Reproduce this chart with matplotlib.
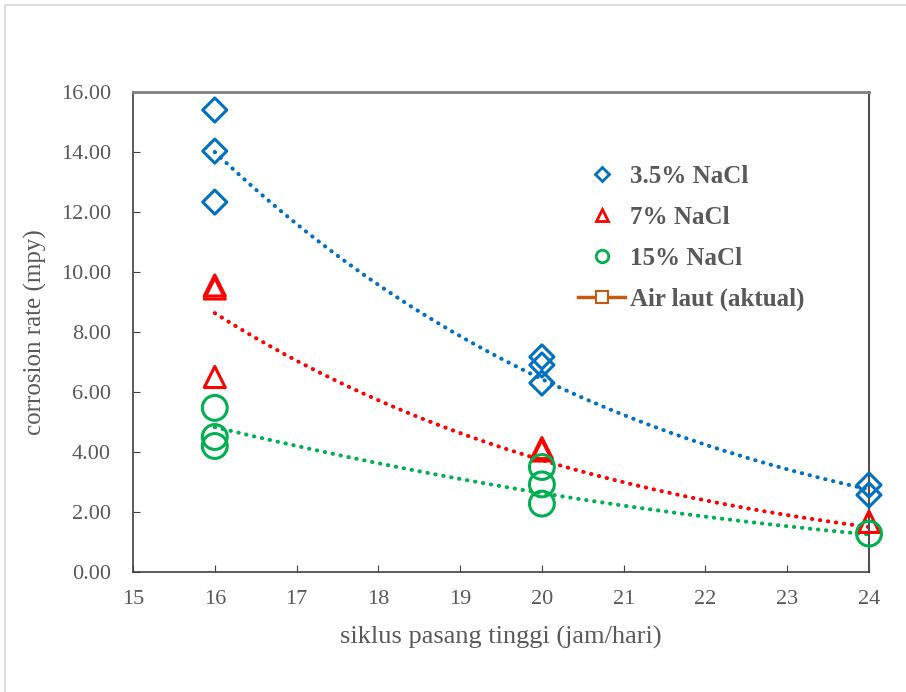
import numpy as np
import matplotlib
matplotlib.use("Agg")
import matplotlib.pyplot as plt
from matplotlib.lines import Line2D
from matplotlib.patches import Rectangle

# Data (measured points)
x_35 = [16, 16, 16, 20, 20, 20, 24, 24]
y_35 = [15.40, 14.03, 12.33, 7.17, 6.90, 6.30, 2.90, 2.57]
x_7 = [16, 16, 16, 20, 20, 24]
y_7 = [9.55, 9.45, 6.50, 4.13, 4.05, 1.67]
x_15 = [16, 16, 16, 20, 20, 20, 24]
y_15 = [5.47, 4.50, 4.20, 3.50, 2.92, 2.28, 1.28]

# Trendline values at x = 16, 20, 24
trend_x = [16, 20, 24]
trend_35 = [14.00, 6.43, 2.75]
trend_7 = [8.63, 3.73, 1.50]
trend_15 = [4.83, 2.63, 1.25]

x_ticks = [15, 16, 17, 18, 19, 20, 21, 22, 23, 24]
y_ticks = [0, 2, 4, 6, 8, 10, 12, 14, 16]
labels = ["3.5% NaCl", "7% NaCl", "15% NaCl", "Air laut (aktual)"]

blue = "#0070C0"
red = "#FF0000"
green = "#00B050"
orange = "#C55A11"
gray = "#595959"

plt.rcParams['font.family'] = ['Liberation Serif', 'DejaVu Serif']

fig = plt.figure(figsize=(9.06, 6.92), dpi=100)
W, H = 906, 692
ax = fig.add_axes([133 / W, 1 - 572 / H, (869 - 133) / W, (572 - 92) / H])

# outer frame
fig.patches.append(Rectangle((5 / W, -0.1), 1.2, 1 - 5 / H + 0.1, transform=fig.transFigure,
                             fill=False, edgecolor="#D9D9D9", lw=1.2))

def trend(ys, color):
    c = np.polyfit(trend_x, np.log(ys), 2)
    xx = np.linspace(16, 24, 300)
    ax.plot(xx, np.exp(np.polyval(c, xx)), linestyle=(0, (0.1, 1.9)), color=color, lw=2.9,
            dash_capstyle='round', zorder=2)

trend(trend_35, blue)
trend(trend_7, red)
trend(trend_15, green)

ax.scatter(x_35, y_35, marker='D', s=150, facecolors='none', edgecolors=blue, linewidths=2.2,
           zorder=3, clip_on=False)
ax.scatter(x_7, y_7, marker='^', s=230, facecolors='none', edgecolors=red, linewidths=2.2,
           zorder=3, clip_on=False)
ax.scatter(x_15, y_15, marker='o', s=320, facecolors='none', edgecolors=green, linewidths=2.2,
           zorder=3, clip_on=False)

ax.set_xlim(15, 24)
ax.set_ylim(0, 16)
ax.set_xticks(x_ticks)
ax.set_yticks(y_ticks)
ax.set_yticklabels([f"{v:.2f}" for v in y_ticks])
ax.tick_params(direction='in', length=5, color='#404040', labelcolor=gray, labelsize=16)
ax.tick_params(axis='x', pad=13)
ax.tick_params(axis='y', pad=16)
for s in ax.spines.values():
    s.set_color('#404040')
    s.set_linewidth(1.2)
ax.spines['top'].set_color('#808080')
ax.spines['top'].set_linewidth(2)
ax.spines['right'].set_color('#505050')
ax.spines['right'].set_linewidth(1.5)

ax.set_xlabel("siklus pasang tinggi (jam/hari)", fontsize=19, color=gray, labelpad=12)
ax.set_ylabel("corrosion rate (mpy)", fontsize=18, color=gray, labelpad=10)

handles = [
    Line2D([], [], ls='none', marker='D', ms=7, mfc='none', mec=blue, mew=2),
    Line2D([], [], ls='none', marker='^', ms=9, mfc='none', mec=red, mew=2),
    Line2D([], [], ls='none', marker='o', ms=9, mfc='none', mec=green, mew=2),
    Line2D([], [], color=orange, lw=2.5, marker='s', ms=8, mfc='white', mec=orange, mew=1.5),
]
leg = ax.legend(handles, labels, loc='upper left', bbox_to_anchor=(0.574, 0.895),
                frameon=False, labelspacing=0.72, handlelength=1.9,
                handletextpad=0.2, prop={'weight': 'bold', 'size': 18})
for t in leg.get_texts():
    t.set_color(gray)

fig.savefig("out.png", dpi=100)
